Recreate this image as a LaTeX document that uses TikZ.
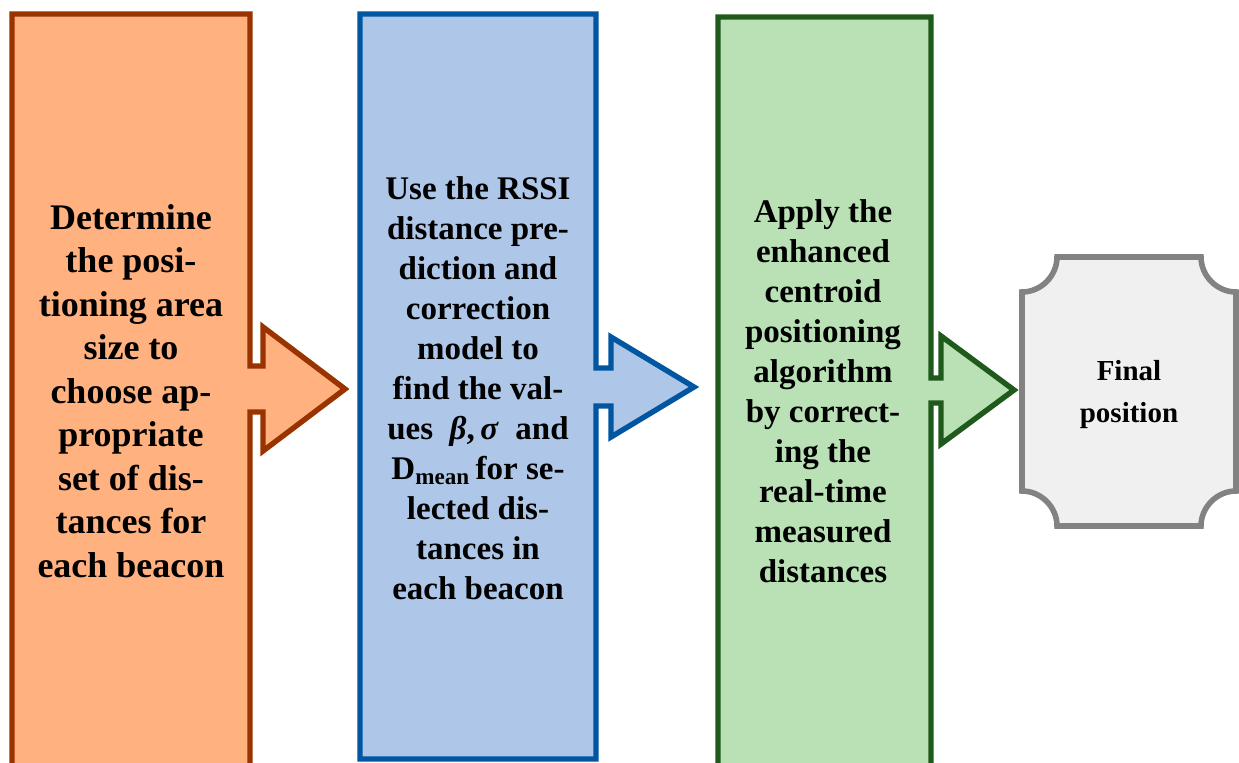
\documentclass[tikz,border=0pt]{standalone}
\usepackage{fontspec}
\setmainfont{Liberation Serif}
\usepackage{tikz}
\definecolor{steporange}{HTML}{FFB280}
\definecolor{steporangedark}{HTML}{993300}
\definecolor{stepblue}{HTML}{AEC7E8}
\definecolor{stepbluedark}{HTML}{0056A0}
\definecolor{stepgreen}{HTML}{BAE1B5}
\definecolor{stepgreendark}{HTML}{1F5A1C}
\definecolor{finalgray}{HTML}{F0F0F0}
\definecolor{finalgraydark}{HTML}{828282}

\begin{document}
\begin{tikzpicture}[x=0.5pt, y=-0.5pt,
  stepshape/.style={line width=2.7pt, line join=miter},
  steptext/.style={align=center, inner sep=0pt,
    font=\bfseries\fontsize{16.5}{20}\selectfont},
  bigtext/.style={steptext, font=\bfseries\fontsize{18}{21.75}\selectfont},
  finaltext/.style={steptext, font=\bfseries\fontsize{14.5}{21}\selectfont}
]
\useasboundingbox (0,0) rectangle (1239,762);
% ── Step 1: positioning area ─────────────────────
\path[stepshape, fill=steporange, draw=steporangedark]
  (12,800) -- (12,14) -- (250,14) -- (250,366) -- (263,366) -- (263,327)
  -- (345,389) -- (263,451) -- (263,412) -- (250,412) -- (250,800) -- cycle;
\node[bigtext] (area) at (131,391) {Determine\\the posi-\\tioning area\\size to\\choose ap-\\propriate\\set of dis-\\tances for\\each beacon};
% ── Step 2: RSSI model ───────────────────────────
\path[stepshape, fill=stepblue, draw=stepbluedark]
  (360,759) -- (360,14) -- (596,14) -- (596,368) -- (611,368) -- (611,337)
  -- (694,387) -- (611,437) -- (611,406) -- (596,406) -- (596,759) -- cycle;
\node[steptext] (rssi) at (478,388) {Use the RSSI\\distance pre-\\diction and\\correction\\model to\\find the val-\\ues~~\textit{β},\,\textit{σ}~~and\\D\textsubscript{mean}\,for se-\\lected dis-\\tances in\\each beacon};
% ── Step 3: centroid algorithm ───────────────────
\path[stepshape, fill=stepgreen, draw=stepgreendark]
  (718,800) -- (718,17) -- (931,17) -- (931,378) -- (941,378) -- (941,336)
  -- (1014,390) -- (941,444) -- (941,403) -- (931,403) -- (931,800) -- cycle;
\node[steptext] (cent) at (823,391) {Apply the\\enhanced\\centroid\\positioning\\algorithm\\by correct-\\ing the\\real-time\\measured\\distances};
% ── Final position ───────────────────────────────
\path[stepshape, line width=2.8pt, fill=finalgray, draw=finalgraydark]
  (1022,292) .. controls (1041,292) and (1057,276) .. (1057,257) -- (1201,257)
  .. controls (1201,276) and (1217,292) .. (1236,292) -- (1236,491)
  .. controls (1217,491) and (1201,507) .. (1201,526) -- (1057,526)
  .. controls (1057,507) and (1041,491) .. (1022,491) -- cycle;
\node[finaltext] (final) at (1129,395) {Final\\position};
\end{tikzpicture}
\end{document}
